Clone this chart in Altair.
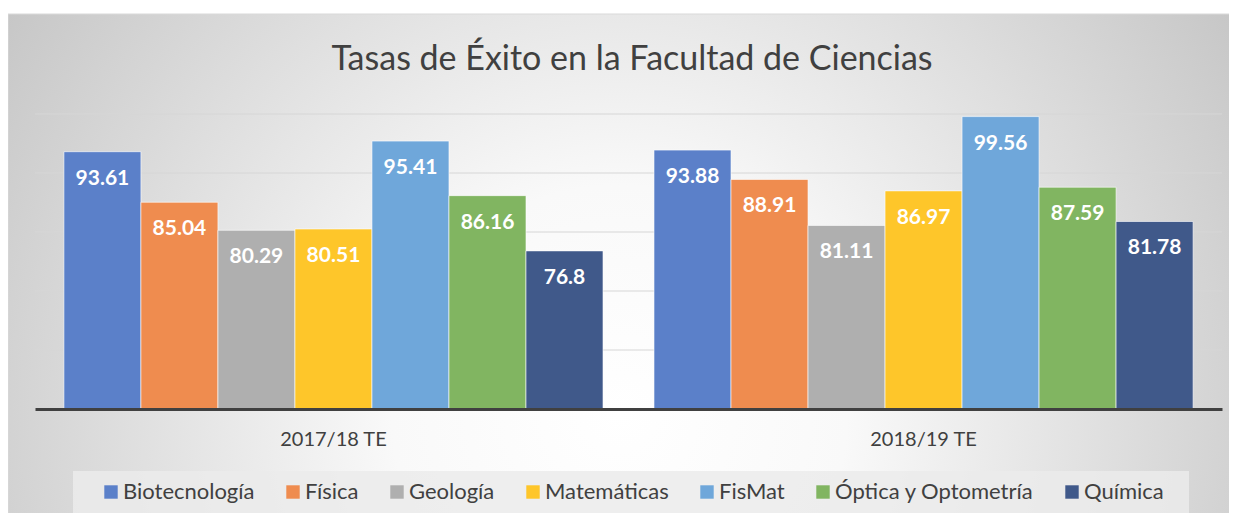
import altair as alt
import pandas as pd

title_text = "Tasas de Éxito en la Facultad de Ciencias"
subjects = ["Biotecnología", "Física", "Geología", "Matemáticas", "FisMat",
            "Óptica y Optometría", "Química"]
periods = ["2017/18 TE", "2018/19 TE"]
values_1718 = [93.61, 85.04, 80.29, 80.51, 95.41, 86.16, 76.8]
values_1819 = [93.88, 88.91, 81.11, 86.97, 99.56, 87.59, 81.78]
colors = ["#5b80c9", "#ef8c4f", "#afafaf", "#fec62a", "#6fa7da", "#81b561", "#40598a"]
grid_values = [60, 70, 80, 90, 100]

rows = []
for p, vals in zip(periods, [values_1718, values_1819]):
    for s, v in zip(subjects, vals):
        rows.append({"period": p, "subject": s, "value": v, "label": f"{v:g}"})
df = pd.DataFrame(rows)

FONT = "Lato"
TXT = "#404040"

x_enc = alt.X("period:N", sort=periods,
              scale=alt.Scale(paddingInner=0.0864, paddingOuter=0.049),
              axis=alt.Axis(title=None, labelAngle=0, ticks=False, domainWidth=3,
                            domainColor="#404040", labelFont=FONT, labelFontSize=20,
                            labelColor=TXT, labelPadding=20, zindex=1))
xo_enc = alt.XOffset("subject:N", sort=subjects,
                     scale=alt.Scale(paddingInner=0, paddingOuter=0))
y_enc = alt.Y("value:Q", scale=alt.Scale(domain=[50, 100], nice=False, zero=False),
              axis=None)

one = pd.DataFrame({"a": [0]})

background = alt.Chart(one).mark_rect(
    fill={"gradient": "radial", "x1": 0.5, "y1": 0.62, "x2": 0.5, "y2": 0.62,
          "r1": 0, "r2": 0.62,
          "stops": [{"offset": 0, "color": "#ffffff"},
                    {"offset": 0.3, "color": "#f9f9f9"},
                    {"offset": 1, "color": "#c4c4c4"}]},
    stroke="#d9d9d9", strokeWidth=1
).encode(x=alt.value(-27), x2=alt.value(1196), y=alt.value(-100), y2=alt.value(404))

title = alt.Chart(pd.DataFrame({"t": [title_text]})).mark_text(
    font=FONT, fontSize=34, color=TXT, align="center", baseline="alphabetic"
).encode(x=alt.value(597), y=alt.value(-44), text="t:N")

legend_box = alt.Chart(one).mark_rect(fill="#ebebeb", fillOpacity=0.85).encode(
    x=alt.value(38), x2=alt.value(1154), y=alt.value(357), y2=alt.value(403))

grid = alt.Chart(pd.DataFrame({"g": grid_values})).mark_rule(
    color="#d6d6d6", strokeWidth=1
).encode(y=alt.Y("g:Q", scale=alt.Scale(domain=[50, 100], nice=False, zero=False), axis=None))

bars = alt.Chart(df).mark_bar(stroke="#ffffff", strokeWidth=1, strokeOpacity=0.6).encode(
    x=x_enc, xOffset=xo_enc, y=y_enc, y2=alt.datum(50),
    color=alt.Color("subject:N", sort=subjects,
                    scale=alt.Scale(domain=subjects, range=colors),
                    legend=alt.Legend(title=None, orient="none", direction="horizontal",
                                      legendX=65, legendY=367, symbolType="square",
                                      symbolSize=180, symbolStrokeWidth=0,
                                      labelFont=FONT, labelFontSize=22, labelColor=TXT,
                                      labelLimit=400, labelOffset=1, columnPadding=27,
                                      zindex=1))
)

labels = alt.Chart(df).mark_text(color="white", font=FONT, fontWeight="bold", fontSize=21,
                                 baseline="middle", dy=27).encode(
    x=x_enc, xOffset=xo_enc, y=y_enc, text="label:N")

chart = alt.layer(background, title, legend_box, grid, bars, labels).properties(
    width=1187, height=295,
    autosize=alt.AutoSizeParams(type="none"),
    padding={"left": 27, "top": 106, "right": 7, "bottom": 104}
).configure_view(stroke=None).configure(background="white")

chart.save("out.html", embed_options={"renderer": "svg", "actions": False})
